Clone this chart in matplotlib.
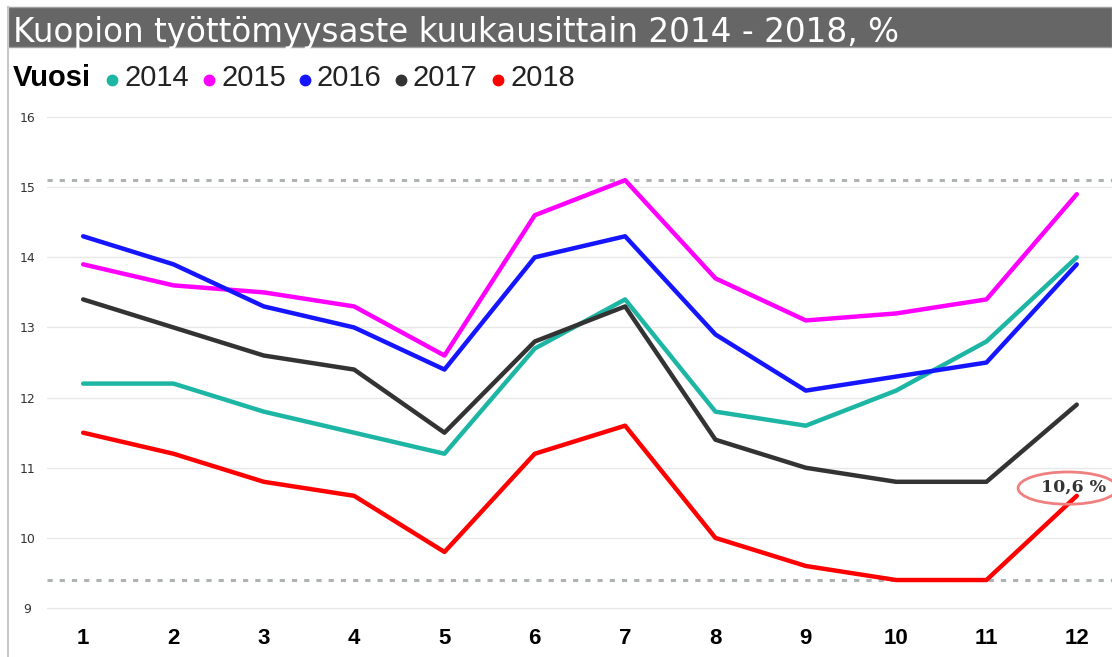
import matplotlib
matplotlib.use("Agg")
import matplotlib.pyplot as plt
from matplotlib.patches import Rectangle, Ellipse
from matplotlib.lines import Line2D

months = [1, 2, 3, 4, 5, 6, 7, 8, 9, 10, 11, 12]
y2014 = [12.2, 12.2, 11.8, 11.5, 11.2, 12.7, 13.4, 11.8, 11.6, 12.1, 12.8, 14.0]
y2015 = [13.9, 13.6, 13.5, 13.3, 12.6, 14.6, 15.1, 13.7, 13.1, 13.2, 13.4, 14.9]
y2016 = [14.3, 13.9, 13.3, 13.0, 12.4, 14.0, 14.3, 12.9, 12.1, 12.3, 12.5, 13.9]
y2017 = [13.4, 13.0, 12.6, 12.4, 11.5, 12.8, 13.3, 11.4, 11.0, 10.8, 10.8, 11.9]
y2018 = [11.5, 11.2, 10.8, 10.6, 9.8, 11.2, 11.6, 10.0, 9.6, 9.4, 9.4, 10.6]
years = ["2014", "2015", "2016", "2017", "2018"]
series = [y2014, y2015, y2016, y2017, y2018]
colors = ["#1db5a3", "#ff00ff", "#1515ff", "#333333", "#ff0000"]
max_line = 15.1
min_line = 9.4
yticks = [9, 10, 11, 12, 13, 14, 15, 16]
title = "Kuopion työttömyysaste kuukausittain 2014 - 2018, %"
last_label = "10,6 %"

W, H = 1112, 657
fig = plt.figure(figsize=(W / 100, H / 100), dpi=100)
fig.patch.set_facecolor("white")

def fx(px):
    return px / W

def fy(py):
    return 1 - py / H

# title bar
fig.add_artist(Rectangle((fx(7.5), fy(47)), 1 - fx(7.5), (47 - 7) / H,
                         transform=fig.transFigure, facecolor="#666666",
                         edgecolor="#a0a0a0", linewidth=1))
fig.text(fx(13), fy(42), title, color="white", fontsize=23.5,
         family="DejaVu Sans", va="baseline", ha="left")
# left border
fig.add_artist(Line2D([fx(7.5), fx(7.5)], [0, fy(7)], transform=fig.transFigure,
                      color="#c8c8c8", linewidth=1.5))

# legend
fig.text(fx(13), fy(78), "Vuosi", fontsize=21, fontweight="bold",
         family="Liberation Sans", va="center", ha="left", color="black")
dot_x = [112, 209, 305, 401, 498]
for yr, c, dx in zip(years, colors, dot_x):
    fig.add_artist(Line2D([fx(dx)], [fy(80)], marker="o", markersize=7.5,
                          color=c, transform=fig.transFigure, linestyle="none"))
    fig.text(fx(dx + 12), fy(78), yr, fontsize=21, family="Liberation Sans",
             va="center", ha="left", color="#222222")

ax = fig.add_axes([fx(47), fy(620), 1 - fx(47), (620 - 110) / H])
ax.set_xlim(0.6, 12.39)
ax.set_ylim(8.83, 16.1)
for s in ax.spines.values():
    s.set_visible(False)
ax.set_yticks(yticks)
ax.set_yticklabels([str(v) for v in yticks])
ax.set_xticks(months)
ax.set_xticklabels([str(m) for m in months])
ax.tick_params(axis="y", length=0, pad=14, labelsize=9, labelcolor="#333333")
ax.tick_params(axis="x", length=0, pad=6, labelsize=16, labelcolor="black")
for lab in ax.get_yticklabels():
    lab.set_horizontalalignment("center")
for lab in ax.get_xticklabels():
    lab.set_fontweight("bold")
    lab.set_family("Liberation Sans")
ax.grid(axis="y", color="#e8e8e8", linewidth=1)
ax.set_axisbelow(True)

for v in (max_line, min_line):
    ax.axhline(v, color="#aeb2b2", linewidth=2.2, linestyle=(0, (1.7, 2.3)), zorder=1)

for vals, c in zip(series, colors):
    ax.plot(months, vals, color=c, linewidth=3.2, solid_joinstyle="round",
            solid_capstyle="round", zorder=3)

ax.add_patch(Ellipse((11.9, 10.71), 1.1, 0.46, facecolor="none",
                     edgecolor="#f08080", linewidth=2, zorder=4, clip_on=False))
ax.text(11.6, 10.72, last_label, fontsize=12.5, fontweight="bold",
        family="DejaVu Serif", color="#333333", va="center", ha="left",
        zorder=5, clip_on=False)

fig.savefig("out.png", dpi=100)
